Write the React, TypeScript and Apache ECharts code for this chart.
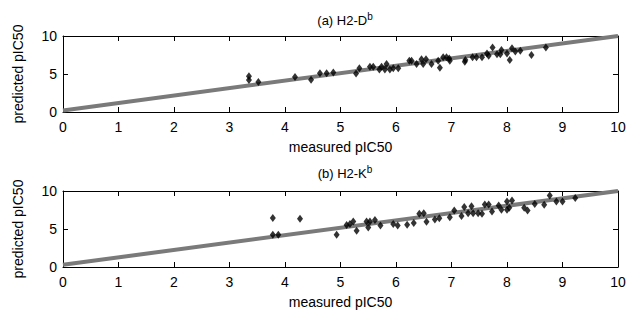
import React, { useEffect, useRef } from "react";
import * as echarts from "echarts";

const xTicks = [0, 1, 2, 3, 4, 5, 6, 7, 8, 9, 10];
const yTicks = [0, 5, 10];

const titleA = "(a) H2-D";
const titleB = "(b) H2-K";
const xName = "measured pIC50";
const yName = "predicted pIC50";

const pointsA: [number, number][] = [
  [3.35, 4.7], [3.35, 4.2], [3.52, 3.95], [4.18, 4.6], [4.47, 4.25],
  [4.63, 5.1], [4.75, 5.1], [4.87, 5.2], [5.28, 5.05], [5.34, 5.75],
  [5.53, 5.96], [5.59, 5.96], [5.7, 5.6], [5.74, 5.96], [5.8, 5.6],
  [5.83, 6.3], [5.89, 5.6], [5.95, 5.75], [6.04, 5.75], [6.24, 6.75],
  [6.28, 6.75], [6.37, 6.3], [6.46, 6.93], [6.54, 6.93], [6.49, 6.3],
  [6.64, 6.3], [6.76, 6.75], [6.79, 5.83], [6.85, 7.2], [6.91, 7.2],
  [6.96, 7.05], [6.97, 6.75], [7.24, 6.6], [7.25, 6.85], [7.38, 7.2],
  [7.45, 7.2], [7.55, 7.2], [7.64, 7.7], [7.67, 7.4], [7.74, 8.5],
  [7.82, 7.6], [7.88, 7.6], [7.9, 8.15], [8.0, 7.7], [8.05, 6.85],
  [8.09, 8.4], [8.15, 7.95], [8.24, 8.05], [8.44, 7.5], [8.7, 8.5],
];

const pointsB: [number, number][] = [
  [3.78, 6.45], [3.78, 4.25], [3.88, 4.25], [4.27, 6.35], [4.93, 4.25],
  [5.11, 5.53], [5.17, 5.66], [5.23, 6.0], [5.29, 4.78], [5.47, 6.0],
  [5.53, 6.0], [5.62, 6.2], [5.5, 5.2], [5.72, 5.45], [5.95, 5.66],
  [6.03, 5.45], [6.2, 5.57], [6.32, 5.8], [6.42, 7.0], [6.5, 7.08],
  [6.55, 5.97], [6.7, 6.24], [6.78, 6.42], [6.97, 6.55], [7.05, 7.43],
  [7.18, 6.7], [7.23, 7.88], [7.36, 8.0], [7.3, 7.08], [7.39, 7.08],
  [7.48, 7.08], [7.55, 7.0], [7.6, 8.23], [7.67, 8.23], [7.73, 7.3],
  [7.85, 8.1], [7.9, 7.52], [8.0, 7.52], [8.04, 7.8], [8.0, 8.63],
  [8.09, 8.76], [8.31, 7.8], [8.37, 7.43], [8.5, 8.3], [8.67, 8.2],
  [8.77, 9.42], [8.89, 8.63], [9.0, 8.63], [9.23, 9.07],
];

const fitA: [number, number][] = [[0, 0.2], [10, 10]];
const fitB: [number, number][] = [[0, 0.3], [10, 10]];

const FONT = "Liberation Sans";

export default function App() {
  const ref = useRef<HTMLDivElement>(null);
  useEffect(() => {
    if (!ref.current) return;
    const chart = echarts.init(ref.current, undefined, { renderer: "svg" });
    const grids = [
      { left: 63, right: 25, top: 36, height: 76 },
      { left: 63, right: 25, top: 191, height: 76 },
    ];
    const lineStyle = { color: "#000", width: 1 };
    const mkX = (gi: number, pos: "bottom" | "top") => ({
      type: "value",
      gridIndex: gi,
      position: pos,
      min: 0,
      max: 10,
      interval: 1,
      splitLine: { show: false },
      axisLine: { show: true, onZero: false, lineStyle },
      axisTick: { show: true, inside: true, length: 5, lineStyle },
      axisLabel: {
        show: pos === "bottom",
        margin: 8,
        color: "#000",
        fontSize: 14,
        fontFamily: FONT,
      },
      name: pos === "bottom" ? xName : "",
      nameLocation: "middle",
      nameGap: 28,
      nameTextStyle: { color: "#000", fontSize: 14, fontFamily: FONT },
    });
    const mkY = (gi: number, pos: "left" | "right") => ({
      type: "value",
      gridIndex: gi,
      position: pos,
      min: 0,
      max: 10,
      interval: 5,
      splitLine: { show: false },
      axisLine: { show: true, onZero: false, lineStyle },
      axisTick: { show: true, inside: true, length: 5, lineStyle },
      axisLabel: {
        show: pos === "left",
        margin: 6,
        color: "#000",
        fontSize: 14,
        fontFamily: FONT,
      },
      name: pos === "left" ? yName : "",
      nameLocation: "middle",
      nameGap: 38,
      nameTextStyle: { color: "#000", fontSize: 14, fontFamily: FONT },
    });
    const titleRich = {
      t: { fontSize: 13, fontFamily: FONT, color: "#000", fontWeight: "normal" },
      sup: {
        fontSize: 10,
        fontFamily: FONT,
        color: "#000",
        fontWeight: "normal",
        verticalAlign: "bottom",
        padding: [0, 0, 9, 0],
      },
    };
    const scatter = (gi: number, data: [number, number][]) => ({
      type: "scatter",
      xAxisIndex: gi * 2,
      yAxisIndex: gi * 2,
      data,
      symbol: "diamond",
      symbolSize: [6, 8],
      itemStyle: { color: "#000" },
      z: 3,
    });
    const fit = (gi: number, data: [number, number][]) => ({
      type: "line",
      xAxisIndex: gi * 2,
      yAxisIndex: gi * 2,
      data,
      symbol: "none",
      lineStyle: { color: "#7a7a7a", width: 4 },
      z: 2,
    });
    chart.setOption({
      animation: false,
      backgroundColor: "#fff",
      title: [
        {
          text: "{t|" + titleA + "}{sup|b}",
          left: 340,
          textAlign: "center",
          top: 6,
          textStyle: { fontWeight: "normal", rich: titleRich },
        },
        {
          text: "{t|" + titleB + "}{sup|b}",
          left: 340,
          textAlign: "center",
          top: 159,
          textStyle: { fontWeight: "normal", rich: titleRich },
        },
      ],
      grid: grids,
      xAxis: [mkX(0, "bottom"), mkX(0, "top"), mkX(1, "bottom"), mkX(1, "top")],
      yAxis: [mkY(0, "left"), mkY(0, "right"), mkY(1, "left"), mkY(1, "right")],
      series: [
        fit(0, fitA),
        scatter(0, pointsA),
        fit(1, fitB),
        scatter(1, pointsB),
      ],
    });
    return () => chart.dispose();
  }, []);
  return (
    <div
      ref={ref}
      style={{ width: 643, height: 320, position: "absolute", left: 0, top: 0 }}
    />
  );
}
